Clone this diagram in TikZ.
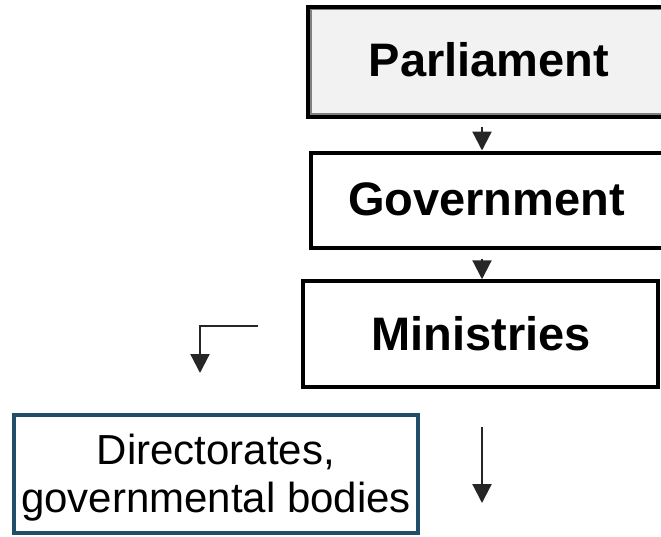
\documentclass[tikz,border=0pt]{standalone}
\usepackage{fontspec}
\setmainfont{Liberation Sans}
\usetikzlibrary{arrows.meta,calc}
\definecolor{tealborder}{HTML}{1F4E68}
\definecolor{arrowgrey}{HTML}{262626}
\definecolor{parlfill}{HTML}{F2F2F2}
\tikzset{
  orgbox/.style={draw=black, line width=4pt, inner sep=0pt},
  boldtext/.style={inner sep=0pt, font=\bfseries\fontsize{47}{52}\selectfont},
  arr/.style={draw=arrowgrey, line width=2.2pt, -{Triangle[width=19pt,length=19pt]}},
}
\begin{document}
\begin{tikzpicture}[x=1pt,y=1pt]
\useasboundingbox (0,0) rectangle (661,-536);
\fill[white] (0,0) rectangle (661,-536);
% Parliament (box runs past the right edge)
\node[orgbox, line width=3.5pt, fill=parlfill, minimum width=362pt, minimum height=110pt] (P) at (489,-61.75) {};
\draw[gray, line width=1.5pt] ($(P.north west)+(4.5,-4.5)$) rectangle ($(P.south east)+(-4.5,4.5)$);
\node[boldtext] (Pt) at (489,-60) {Parliament};
% Government (box runs past the right edge)
\node[orgbox, minimum width=357pt, minimum height=95pt] (G) at (489,-200) {};
\node[boldtext] (Gt) at (486.5,-199) {Government};
% Ministries
\node[orgbox, minimum width=355pt, minimum height=105.5pt] (M) at (480.5,-334) {};
\node[boldtext] (Mt) at (481,-333.5) {Ministries};
% Directorates
\node[draw=tealborder, line width=4pt, inner sep=0pt, minimum width=404pt, minimum height=118pt] (D) at (216,-474) {};
\node[inner sep=0pt, align=center, font=\fontsize{42}{48}\selectfont] (Dt) at (216,-478) {Directorates,\\governmental bodies};
% connectors
\draw[arr] ([yshift=-8pt]P.south -| 482,0) -- (G.north -| 482,0);
\draw[arr] ([yshift=-9pt]G.south -| 482,0) -- (M.north -| 482,0);
\coordinate (e1) at (258,-326);
\coordinate (e2) at (200,-373);
\draw[arr] (e1) -| (e2);
\coordinate (d1) at (482,-427);
\coordinate (d2) at (482,-503);
\draw[arr] (d1) -- (d2);
\end{tikzpicture}
\end{document}
